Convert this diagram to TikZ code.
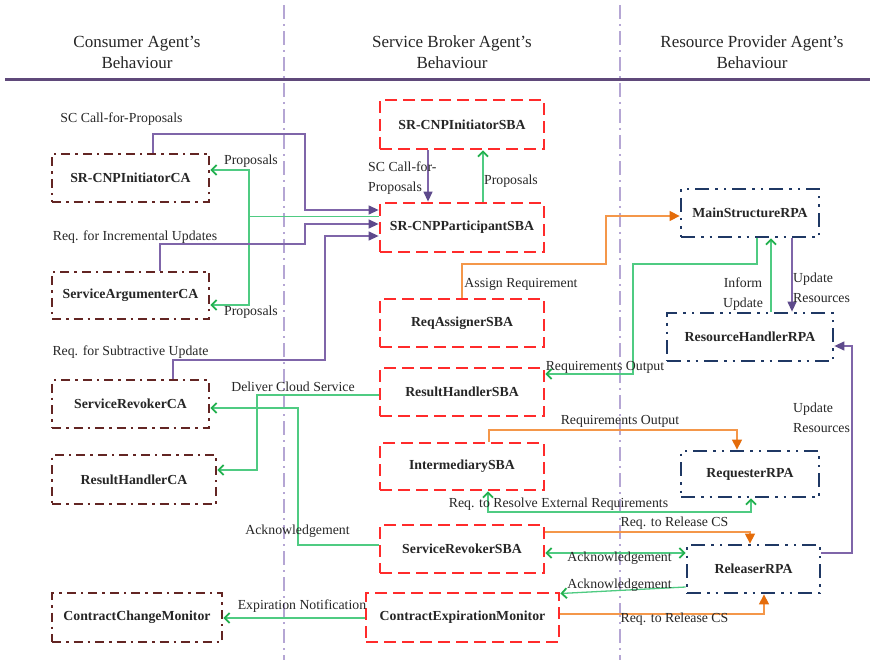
\documentclass[tikz,border=0pt]{standalone}
\usepackage{fontspec}
\setmainfont{Liberation Serif}
\usetikzlibrary{arrows.meta,calc}
\definecolor{brn}{HTML}{632523}
\definecolor{rd}{HTML}{FF2B2B}
\definecolor{nvy}{HTML}{1F3864}
\definecolor{prp}{HTML}{7F65A9}
\definecolor{prpd}{HTML}{5E4A8C}
\definecolor{grn}{HTML}{4FCB82}
\definecolor{grnd}{HTML}{22B04E}
\definecolor{org}{HTML}{F4974A}
\definecolor{orgd}{HTML}{E46C0A}
\definecolor{hdr}{HTML}{5F497A}
\definecolor{lav}{HTML}{B5A6D4}
\definecolor{txt}{HTML}{262626}
\tikzset{
  gtip/.tip={Straight Barb[length=5pt,width=10pt,line width=1.8pt,color=grnd]},
  ptip/.tip={Triangle[length=10pt,width=9pt,color=prpd]},
  otip/.tip={Triangle[length=10pt,width=10pt,color=orgd]},
}
\begin{document}
\begin{tikzpicture}[x=1pt,y=-1pt,
  every node/.style={inner sep=0pt, text=txt, font=\fontsize{13.8}{20}\selectfont},
  box/.style={draw, line width=2.8pt, minimum height=48pt, inner sep=0pt,
    font=\bfseries\fontsize{13.8}{16}\selectfont},
  cabox/.style={box, draw=brn, dash pattern=on 9pt off 5pt on 2.5pt off 5pt},
  sbbox/.style={box, draw=rd, dash pattern=on 12pt off 6pt},
  rpbox/.style={box, draw=nvy, dash pattern=on 14pt off 6pt on 2.5pt off 6pt on 2.5pt off 6pt},
  lbl/.style={},
  hd/.style={align=center, font=\fontsize{17}{21}\selectfont},
  pline/.style={draw=prp, line width=1.3pt, -ptip},
  gline/.style={draw=grn, line width=1.3pt, -gtip},
  gdbl/.style={draw=grn, line width=1.3pt, gtip-gtip},
  oline/.style={draw=org, line width=1.3pt, -otip},
  vline/.style={draw=lav, line width=1.6pt, dash pattern=on 14pt off 5pt on 2pt off 5pt},
]
\useasboundingbox (0,0) rectangle (870,660);

% column separators and header rule
\draw[vline] (284,5) -- (284,660);
\draw[vline] (620,5) -- (620,660);
\draw[hdr, line width=3pt] (5,80) -- (870,80);

% headers
\node[hd] (h1) at (137,52) {Consumer Agent’s\\Behaviour};
\node[hd] (h2) at (452,52) {Service Broker Agent’s\\Behaviour};
\node[hd] (h3) at (752,52) {Resource Provider Agent’s\\Behaviour};

% consumer agent boxes
\node[cabox, minimum width=157pt] (ca1) at (130.5,178) {SR-CNPInitiatorCA};
\node[cabox, minimum width=157pt, minimum height=47pt] (ca2) at (130.5,295.5) {ServiceArgumenterCA};
\node[cabox, minimum width=157pt] (ca3) at (130.5,404) {ServiceRevokerCA};
\node[cabox, minimum width=164pt, minimum height=49pt] (ca4) at (134,479.5) {ResultHandlerCA};
\node[cabox, minimum width=170pt, minimum height=49pt] (ca5) at (137,617.5) {ContractChangeMonitor};

% service broker boxes
\node[sbbox, minimum width=164pt, minimum height=49pt] (sb1) at (462,124.5) {SR-CNPInitiatorSBA};
\node[sbbox, minimum width=164pt, minimum height=49pt] (sb2) at (462,227.5) {SR-CNPParticipantSBA};
\node[sbbox, minimum width=164pt] (sb3) at (462,323) {ReqAssignerSBA};
\node[sbbox, minimum width=164pt] (sb4) at (462,392) {ResultHandlerSBA};
\node[sbbox, minimum width=164pt, minimum height=47pt] (sb5) at (462,466.5) {IntermediarySBA};
\node[sbbox, minimum width=164pt] (sb6) at (462,549) {ServiceRevokerSBA};
\node[sbbox, minimum width=193pt, minimum height=49pt] (sb7) at (462.5,617.5) {ContractExpirationMonitor};

% resource provider boxes
\node[rpbox, minimum width=138pt] (rp1) at (750,213) {MainStructureRPA};
\node[rpbox, minimum width=166pt] (rp2) at (750,337) {ResourceHandlerRPA};
\node[rpbox, minimum width=138pt, minimum height=46pt] (rp3) at (750,474) {RequesterRPA};
\node[rpbox, minimum width=133pt] (rp4) at (753.5,569) {ReleaserRPA};

% bend points
\coordinate (b1) at (305,134);
\coordinate (b2) at (305,244);
\coordinate (b3) at (325,360);
\coordinate (j1) at (249,216.5);
\coordinate (g2) at (257,395);
\coordinate (g3) at (298,545);
\coordinate (o1) at (606,264);
\coordinate (g4) at (633,264);
\coordinate (p4) at (852,553);
\coordinate (o2) at (737,430);
\coordinate (g5) at (751,512);

% connectors
\draw[pline] ($(ca1.north)+(22.5,0)$) |- (b1) |- ($(sb2.west)+(0,-17.5)$);
\draw[gline] ($(sb2.west)+(0,-11)$) -- (j1) |- ($(ca1.east)+(0,-8)$);
\draw[gline] (j1) |- ($(ca2.east)+(0,9.5)$);
\draw[pline] ($(ca2.north)+(29.5,0)$) |- (b2) |- ($(sb2.west)+(0,-3.5)$);
\draw[pline] ($(ca3.north)+(42.5,0)$) |- (b3) |- ($(sb2.west)+(0,8.5)$);
\draw[gline] ($(sb4.west)+(0,3)$) -- (g2) |- ($(ca4.east)+(0,-9.5)$);
\draw[gline] ($(sb6.west)+(0,-4)$) -- (g3) |- ($(ca3.east)+(0,4)$);
\draw[gline] ($(sb7.west)+(0,0.5)$) -- ($(ca5.east)+(0,0.5)$);
\draw[pline] ($(sb1.south)+(-34,0)$) -- ($(sb2.north)+(-34,0)$);
\draw[gline] ($(sb2.north)+(21,0)$) -- ($(sb1.south)+(21,0)$);
\draw[oline] (sb3.north) |- (o1) |- ($(rp1.west)+(0,3)$);
\draw[gline] ($(rp1.south)+(7,0)$) |- (g4) |- ($(sb4.east)+(0,-18)$);
\draw[gline] ($(rp2.north)+(21,0)$) -- ($(rp1.south)+(21,0)$);
\draw[pline] ($(rp1.south)+(42,0)$) -- ($(rp2.north)+(42,0)$);
\draw[pline] ($(rp4.east)+(0,-16)$) -- (p4) |- ($(rp2.east)+(0,9)$);
\draw[oline] ($(sb5.north)+(27,0)$) |- (o2) -- ($(rp3.north)+(-13,0)$);
\draw[gdbl] ($(sb5.south)+(26,0)$) |- (g5) -- ($(rp3.south)+(1,0)$);
\draw[oline] ($(sb6.east)+(0,-17)$) -| ($(rp4.north)+(-3.5,0)$);
\draw[gdbl] ($(sb6.east)+(0,4)$) -- ($(rp4.west)+(0,-16)$);
\draw[gline] ($(rp4.west)+(0,18)$) -- ($(sb7.east)+(0,-24)$);
\draw[oline] ($(sb7.east)+(0,-3.5)$) -| ($(rp4.south)+(10.5,0)$);

% labels
\node[lbl] (t1) at (121.5,119) {SC Call-for-Proposals};
\node[lbl] (t2) at (251,161) {Proposals};
\node[lbl] (t3) at (251,312) {Proposals};
\node[lbl] (t4) at (135,237) {Req. for Incremental Updates};
\node[lbl] (t5) at (130.5,352) {Req. for Subtractive Update};
\node[lbl] (t6) at (293,387) {Deliver Cloud Service};
\node[lbl] (t7) at (297.5,531) {Acknowledgement};
\node[lbl] (t8) at (302,606) {Expiration Notification};
\node[lbl, anchor=west, align=left] (t9) at (368,178.5) {SC Call-for-\\Proposals};
\node[lbl] (t10) at (511,181) {Proposals};
\node[lbl] (t11) at (521,284) {Assign Requirement};
\node[lbl, align=center] (t12) at (743,294.5) {Inform\\Update};
\node[lbl, anchor=west, align=left] (t13) at (793,287.5) {Update\\Resources};
\node[lbl] (t14) at (605,367) {Requirements Output};
\node[lbl, anchor=west, align=left] (t15) at (793,418) {Update\\Resources};
\node[lbl] (t16) at (620,421) {Requirements Output};
\node[lbl] (t17) at (558.5,504) {Req. to Resolve External Requirements};
\node[lbl] (t18) at (674.5,523) {Req. to Release CS};
\node[lbl] (t19) at (619.5,558) {Acknowledgement};
\node[lbl] (t20) at (619.5,585) {Acknowledgement};
\node[lbl] (t21) at (674.5,619) {Req. to Release CS};
\end{tikzpicture}
\end{document}
